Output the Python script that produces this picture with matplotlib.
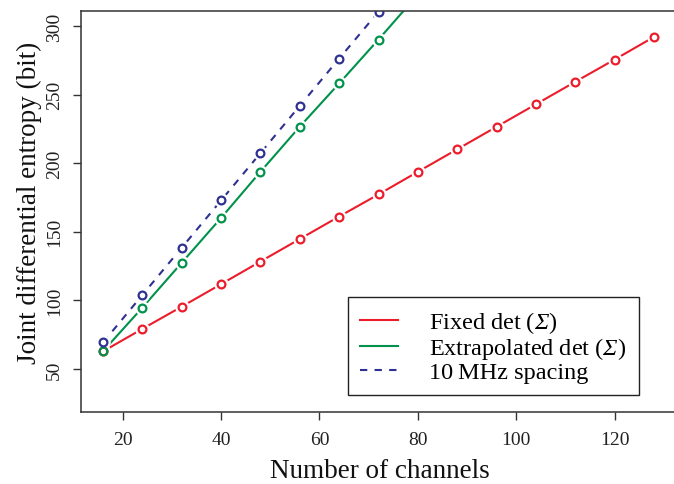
import matplotlib
matplotlib.use('Agg')
from matplotlib import pyplot as plt

# Dados
canais = [16, 24, 32, 40, 48, 56, 64, 72, 80, 88, 96, 104, 112, 120, 128]
fixo = [62.9, 79.3, 95.5, 111.9, 128.4, 144.8, 161.2, 177.3, 193.8, 210.2,
        226.6, 243.0, 259.4, 275.6, 292.1]
canais_ext = [16, 24, 32, 40, 48, 56, 64, 72, 80]
extrapolado = [63.0, 94.8, 127.5, 160.2, 193.8, 226.7, 258.2, 290.2, 323.0]
canais_10mhz = [16, 24, 32, 40, 48, 56, 64, 72, 80]
espacamento = [69.4, 104.0, 138.5, 172.9, 207.4, 241.9, 276.3, 310.5, 345.0]

rotulos = ['Fixed det ($\\Sigma$)',
           'Extrapolated det ($\\Sigma$)',
           '10\u2009MHz spacing']
cores = ['#EC1C2A', '#00924A', '#2E3192']

plt.rcParams['font.family'] = ['Liberation Serif', 'DejaVu Serif']
# Sigma maiúsculo vai para a fonte 'rm' do mathtext -> usar itálico ali
plt.rcParams['mathtext.fontset'] = 'custom'
plt.rcParams['mathtext.rm'] = 'Liberation Serif:italic'
plt.rcParams['mathtext.it'] = 'Liberation Serif:italic'

fig = plt.figure(figsize=(6.74, 4.85), dpi=100)
ax = fig.add_axes([81 / 674, 1 - 413 / 485, 595 / 674, 401 / 485])

series = [(canais, fixo), (canais_ext, extrapolado), (canais_10mhz, espacamento)]
estilos = ['-', '-', (0, (3.5, 3.5))]

# Linhas (tipo "b" do R: as linhas não tocam os pontos)
for (x, y), cor, ls, lab in zip(series, cores, estilos, rotulos):
    ax.plot(x, y, color=cor, lw=1.5, ls=ls, zorder=1, label=lab)
for (x, y) in series:
    ax.plot(x, y, 'o', ms=10.5, mfc='white', mec='none', ls='none', zorder=2)
for (x, y), cor in zip(series, cores):
    ax.plot(x, y, 'o', ms=5.6, mfc='none', mec=cor, mew=1.6, ls='none', zorder=3)

ax.set_xlim(11.52, 132.48)
ax.set_ylim(18.7, 311)
ax.set_xticks([20, 40, 60, 80, 100, 120])
ax.set_yticks([50, 100, 150, 200, 250, 300])

for lado in ['left', 'bottom', 'top']:
    ax.spines[lado].set_linewidth(1.1)
    ax.spines[lado].set_color('#333333')
ax.spines['right'].set_visible(False)

ax.tick_params(axis='both', length=6, width=1, color='#333333', labelsize=14,
               labelcolor='#222222')
ax.tick_params(axis='x', pad=8)
ax.tick_params(axis='y', pad=7)
for t in ax.get_yticklabels():
    t.set_rotation(90)
    t.set_va('center')

ax.set_xlabel('Number of channels', fontsize=19.5, color='#111111')
ax.set_ylabel('Joint differential entropy (bit)', fontsize=19.5, color='#111111')
ax.xaxis.set_label_coords(0.5025, -0.115)
ax.yaxis.set_label_coords(-0.066, 0.524)

leg = ax.legend(loc='upper left', bbox_to_anchor=(348 / 674, 1 - 298 / 485),
                bbox_transform=fig.transFigure, fontsize=17.5, frameon=True,
                fancybox=False, edgecolor='#222222', framealpha=1,
                handlelength=1.55, handletextpad=1.3, borderpad=0.5,
                borderaxespad=0, labelspacing=0.0)
leg.get_frame().set_linewidth(1.0)

fig.savefig('out.png', dpi=100)
